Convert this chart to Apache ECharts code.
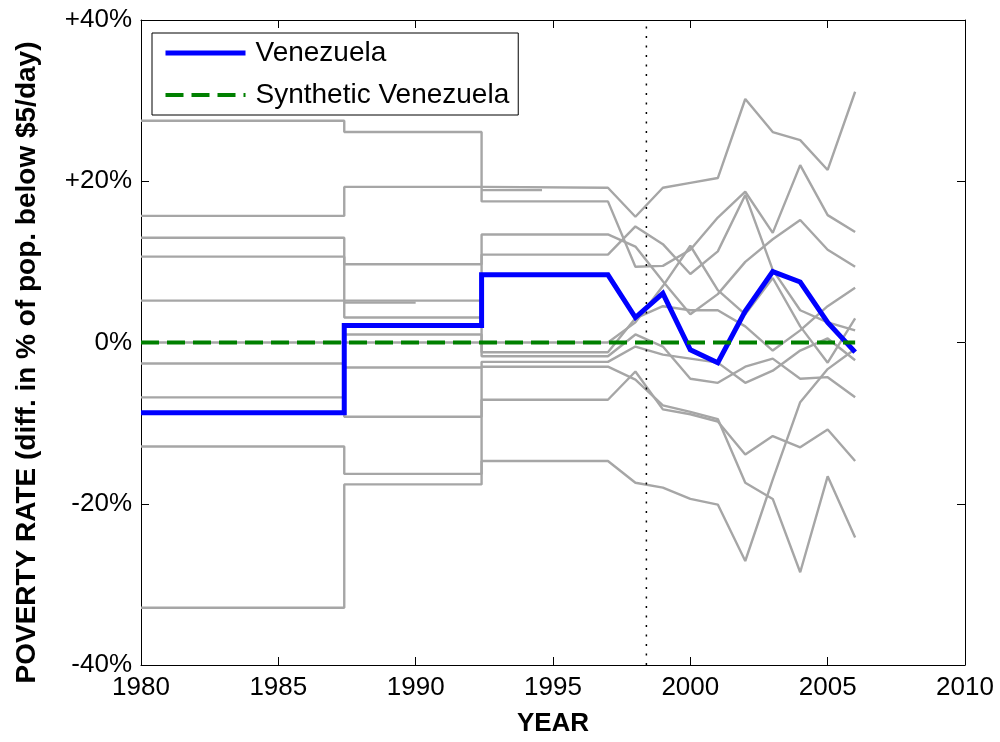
<!DOCTYPE html>
<html>
<head>
<meta charset="utf-8">
<script src="https://cdn.jsdelivr.net/npm/echarts@6/dist/echarts.min.js"></script>
<style>
html,body{margin:0;padding:0;background:#fff;}
#chart{width:1000px;height:742px;}
</style>
</head>
<body>
<div id="chart"></div>
<script>
// ---- data ----
// period step breaks (years) and annual years after 1997
const periodYears = [1980, 1987.4, 1992.4, 1997];
const annualYears = [1998, 1999, 2000, 2001, 2002, 2003, 2004, 2005, 2006];
const eventYear = 1998.4;

// values: [period A (1980-87), period B (87-92), period C (92-97), 1998..2006]  (% difference)
const venezuela = [-8.7, 2.1, 8.4, 3.1, 6.1, -0.9, -2.5, 3.9, 8.8, 7.5, 2.5, -1.2];
const syntheticVenezuela = [0, 0, 0, 0, 0, 0, 0, 0, 0, 0, 0, 0];

const donor01 = [27.5, 26.1, 17.5, 9.4, 9.5, 11.5, 15.5, 18.7, 13.6, 22.0, 15.8, 13.7];
const donor02 = [15.7, 19.3, 19.2, 15.6, 19.2, 19.8, 20.4, 30.2, 26.1, 25.1, 21.4, 31.1];
const donor03 = [13.0, 9.7, 13.4, 11.9, 7.6, 3.5, 6.0, 10.0, 12.8, 15.2, 11.5, 9.4];
const donor04 = [10.65, 3.1, 10.9, 14.4, 12.2, 8.5, 11.3, 18.3, 9.0, 4.0, 2.5, 1.5];
const donor05 = [5.2, 5.2, -1.2, 3.0, 4.5, 4.0, 4.0, 2.0, -1.0, 1.5, 4.5, 6.8];
const donor06 = [0, 0, 0, 2.5, 7.0, 12.0, 6.5, 3.5, 8.0, 2.0, -2.5, 3.0];
const donor07 = [-2.6, -3.1, -2.4, -0.5, -1.5, -2.0, -2.5, -5.0, -3.5, -1.0, 0.5, -2.2];
const donor08 = [-6.8, -9.2, -7.1, -3.6, -8.3, -8.9, -9.8, -13.9, -11.6, -13.0, -10.8, -14.7];
const donor09 = [-12.9, -16.3, -14.7, -17.4, -18.0, -19.4, -20.1, -27.1, -17.0, -7.4, -3.3, -0.8];
const donor10 = [-32.9, -17.6, -3.0, -4.6, -7.8, -8.6, -9.5, -17.4, -19.4, -28.5, -16.6, -24.2];
const donor11 = [null, 1.0, -1.7, 1.0, -0.5, -4.5, -5.0, -3.0, -2.0, -4.5, -4.3, -6.8];
const donors = [donor01, donor02, donor03, donor04, donor05, donor06, donor07, donor08, donor09, donor10, donor11];

// short donor segments that stop early
const stubStart = [1987.4, 1992.4];
const stubEnd = [1990.0, 1994.6];
const stubValue = [4.95, 18.9];

const xTicks = {min: 1980, max: 2010, step: 5};
const yTicks = {min: -40, max: 40, step: 20};

// ---- build polylines ----
function buildPath(v) {
  const pts = [];
  if (v[0] !== null) { pts.push([periodYears[0], v[0]], [periodYears[1], v[0]]); }
  pts.push([periodYears[1], v[1]], [periodYears[2], v[1]]);
  pts.push([periodYears[2], v[2]], [periodYears[3], v[2]]);
  annualYears.forEach((yr, i) => pts.push([yr, v[3 + i]]));
  return pts;
}

const FONT = '"Liberation Sans", Arial, sans-serif';
const GREY = '#a6a6a6';

const series = [];
donors.forEach((d, i) => {
  series.push({
    name: 'donor' + (i + 1), type: 'line', data: buildPath(d), symbol: 'none',
    lineStyle: {color: GREY, width: 2.4}, silent: true, z: 1, animation: false
  });
});
stubValue.forEach((v, i) => {
  series.push({
    name: 'stub' + (i + 1), type: 'line', data: [[stubStart[i], v], [stubEnd[i], v]], symbol: 'none',
    lineStyle: {color: GREY, width: 2.4}, silent: true, z: 1, animation: false
  });
});
series.push({
  name: 'event', type: 'line', data: [[eventYear, yTicks.min], [eventYear, yTicks.max]], symbol: 'none',
  lineStyle: {color: '#000', width: 1.5, type: [2, 7.5]}, silent: true, z: 2, animation: false
});
series.push({
  name: 'Venezuela', type: 'line', data: buildPath(venezuela), symbol: 'none',
  lineStyle: {color: '#0000ff', width: 5, join: 'miter'}, itemStyle: {color: '#0000ff'}, z: 3, animation: false
});
series.push({
  name: 'Synthetic Venezuela', type: 'line', data: buildPath(syntheticVenezuela), symbol: 'none',
  lineStyle: {color: '#008000', width: 4, type: [18, 8]}, itemStyle: {color: '#008000'}, z: 4, animation: false
});

const chart = echarts.init(document.getElementById('chart'), null, {renderer: 'canvas'});
function axisCommon(showTicks) {
  return {
    axisLine: {show: true, onZero: false, lineStyle: {color: '#000', width: 1}},
    axisTick: {show: showTicks, inside: true, length: 8, lineStyle: {color: '#000'}},
    splitLine: {show: false}
  };
}
chart.setOption({
  animation: false,
  backgroundColor: '#fff',
  grid: {left: 141, right: 35, top: 20, bottom: 76, containLabel: false, show: false},
  legend: {
    show: true, orient: 'vertical', left: 152, top: 33,
    data: [
      {name: 'Venezuela', lineStyle: {width: 5, color: '#0000ff'}},
      {name: 'Synthetic Venezuela', lineStyle: {width: 4, color: '#008000', type: [18, 8]}}
    ],
    itemStyle: {opacity: 0},
    itemWidth: 80, itemHeight: 14, itemGap: 12,
    padding: [5, 9, 5, 11],
    borderColor: '#000', borderWidth: 1, backgroundColor: '#fff', borderRadius: 0,
    textStyle: {fontFamily: FONT, fontSize: 28, lineHeight: 30, color: '#000', padding: [0, 0, 0, 5]}
  },
  xAxis: [
    Object.assign({
      type: 'value', position: 'bottom', min: xTicks.min, max: xTicks.max, interval: xTicks.step,
      name: 'YEAR', nameLocation: 'middle', nameGap: 46,
      nameTextStyle: {fontFamily: FONT, fontWeight: 'bold', fontSize: 26, color: '#000'},
      axisLabel: {fontFamily: FONT, fontSize: 26, color: '#000', margin: 10, formatter: v => String(v)}
    }, axisCommon(true)),
    Object.assign({
      type: 'value', position: 'top', min: xTicks.min, max: xTicks.max, interval: xTicks.step,
      axisLabel: {show: false}
    }, axisCommon(true))
  ],
  yAxis: [
    Object.assign({
      type: 'value', position: 'left', min: yTicks.min, max: yTicks.max, interval: yTicks.step,
      name: 'POVERTY RATE (diff. in % of pop. below $5/day)', nameLocation: 'middle', nameGap: 100,
      nameTextStyle: {fontFamily: FONT, fontWeight: 'bold', fontSize: 28, color: '#000', padding: [0, 40, 0, 0]},
      axisLabel: {fontFamily: FONT, fontSize: 26, color: '#000', margin: 9,
        formatter: v => (v > 0 ? '+' + v + '%' : v + '%')}
    }, axisCommon(true)),
    Object.assign({
      type: 'value', position: 'right', min: yTicks.min, max: yTicks.max, interval: yTicks.step,
      axisLabel: {show: false}
    }, axisCommon(true))
  ],
  series: series
});
</script>
</body>
</html>
